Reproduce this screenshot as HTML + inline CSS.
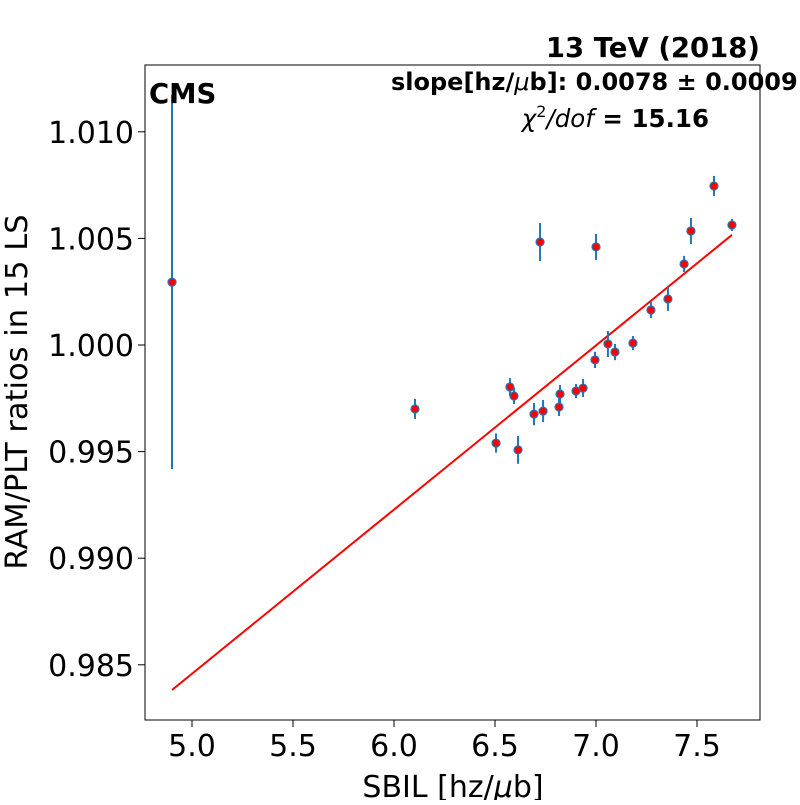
<!DOCTYPE html>
<html><head><meta charset="utf-8"><style>
body{margin:0;background:#fff;overflow:hidden;}
svg text{font-family:"DejaVu Sans","Liberation Sans",sans-serif;}
</style></head><body>
<svg id="chart" width="800" height="800" xmlns="http://www.w3.org/2000/svg">
<rect x="0" y="0" width="800" height="800" fill="#fff"/>
<g id="plot"></g>
<text x="760" y="57" text-anchor="end" font-size="27.5" font-weight="bold">13 TeV (2018)</text>
<text x="149" y="103" font-size="27.5" font-weight="bold">CMS</text>
<text x="391" y="90" font-size="24" font-weight="bold">slope[hz/<tspan font-style="italic" font-weight="normal">μ</tspan>b]: 0.0078 ± 0.0009</text>
<text x="709" y="127" text-anchor="end" font-size="24.5"><tspan font-style="italic">χ</tspan><tspan font-size="16" dy="-10">2</tspan><tspan dy="10" font-style="italic">/dof</tspan><tspan font-weight="bold"> = 15.16</tspan></text>
<text x="453" y="797" text-anchor="middle" font-size="30">SBIL [hz/<tspan font-style="italic">μ</tspan>b]</text>
<text transform="translate(27,392) rotate(-90)" text-anchor="middle" font-size="30.5">RAM/PLT ratios in 15 LS</text>
</svg>
<script>
const sbil = [4.901,6.104,6.505,6.574,6.594,6.614,6.693,6.723,6.738,6.817,6.822,6.901,6.936,6.995,7.000,7.059,7.094,7.183,7.272,7.356,7.436,7.470,7.584,7.673];
const ratios = [1.00295,0.99700,0.99540,0.99803,0.99761,0.99508,0.99676,1.00483,0.99690,0.99709,0.99770,0.99784,0.99798,0.99930,1.00460,1.00005,0.99967,1.00009,1.00164,1.00216,1.00380,1.00535,1.00746,1.00563];
const errors = [0.00877,0.00047,0.00045,0.00042,0.00038,0.00065,0.00052,0.00089,0.00052,0.00042,0.00042,0.00033,0.00042,0.00038,0.00061,0.00061,0.00038,0.00033,0.00038,0.00056,0.00038,0.00061,0.00047,0.00028];
const fitParams = [0.0077, 0.94608];
const xTicks = [5.0,5.5,6.0,6.5,7.0,7.5];
const xTickLabels = ["5.0","5.5","6.0","6.5","7.0","7.5"];
const yTicks = [0.985,0.990,0.995,1.000,1.005,1.010];
const yTickLabels = ["0.985","0.990","0.995","1.000","1.005","1.010"];

const L=145,R=760,T=65,B=720;
const xs=v=>192+(v-5)*202;
const ys=v=>345-(v-1)*21320;
const NS="http://www.w3.org/2000/svg";
const g=document.getElementById('plot');
function mk(t,a){const e=document.createElementNS(NS,t);for(const k in a)e.setAttribute(k,a[k]);g.appendChild(e);return e;}

const clip=document.createElementNS(NS,'clipPath');clip.setAttribute('id','c');
const cr=document.createElementNS(NS,'rect');cr.setAttribute('x',L);cr.setAttribute('y',T);cr.setAttribute('width',R-L);cr.setAttribute('height',B-T);
clip.appendChild(cr);g.appendChild(clip);

xTicks.forEach((v,i)=>{
  const t=mk('line',{x1:xs(v),x2:xs(v),y1:B,y2:B+7,stroke:'#000','stroke-width':1});
  
  
  const l=mk('text',{x:xs(v),y:B+36,'text-anchor':'middle','font-size':30});
  l.textContent=xTickLabels[i];
  
  
});
yTicks.forEach((v,i)=>{
  const t=mk('line',{x1:L-7,x2:L,y1:ys(v),y2:ys(v),stroke:'#000','stroke-width':1});
  
  
  const l=mk('text',{x:L-11,y:ys(v)+11,'text-anchor':'end','font-size':30});
  l.textContent=yTickLabels[i];
  
  
});

const x0=Math.min(...sbil),x1=Math.max(...sbil);
const fit=mk('line',{x1:xs(x0),y1:ys(fitParams[0]*x0+fitParams[1]),x2:xs(x1),y2:ys(fitParams[0]*x1+fitParams[1]),stroke:'#ff0000','stroke-width':2,'clip-path':'url(#c)'});



sbil.forEach((x,i)=>{
  const e=mk('line',{x1:xs(x),x2:xs(x),y1:ys(ratios[i]+errors[i]),y2:ys(ratios[i]-errors[i]),stroke:'#1f77b4','stroke-width':2,'clip-path':'url(#c)'});
  
  
  const p=mk('circle',{cx:xs(x),cy:ys(ratios[i]),r:4,fill:'#ff0000',stroke:'#1f77b4','stroke-width':1.2});
  
  
});

const fr=mk('rect',{x:L,y:T,width:R-L,height:B-T,fill:'none',stroke:'#000','stroke-width':1});


</script>
</body></html>
